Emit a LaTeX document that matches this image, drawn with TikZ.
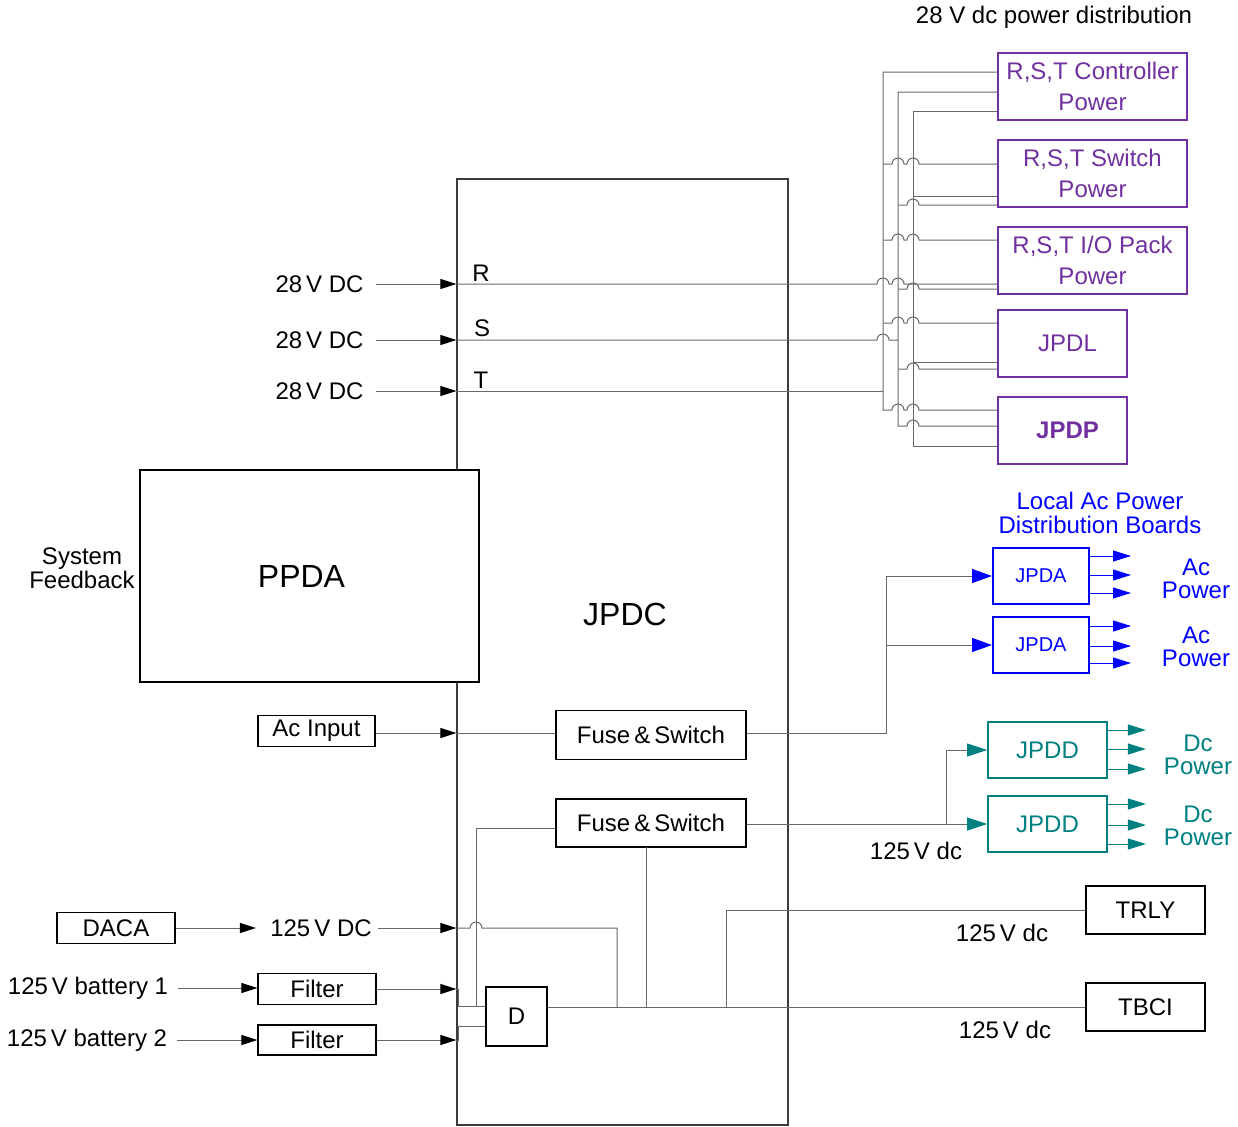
\documentclass[tikz,border=0pt]{standalone}
\usepackage{fontspec}
\setmainfont{Liberation Sans}
\usetikzlibrary{arrows.meta}
\definecolor{wiregray}{RGB}{105,105,105}
\definecolor{framegray}{RGB}{60,60,60}
\definecolor{rstpurple}{RGB}{112,48,160}
\definecolor{dcteal}{RGB}{0,128,128}
\newcommand{\jump}{arc[start angle=180,end angle=0,radius=3pt]}

\begin{document}
\begin{tikzpicture}[x=0.5pt,y=-0.5pt,
  font=\fontsize{12}{11.8}\selectfont,
  txt/.style={inner sep=1pt},
  wire/.style={draw=wiregray,line width=0.5pt},
  feed/.style={wire,-{Triangle[length=8pt,width=5pt,color=black]}},
  frame/.style={draw=framegray,line width=0.6pt,inner sep=0pt},
  blk/.style={draw=black,line width=0.6pt,fill=white,inner sep=0pt},
  pbox/.style={draw=rstpurple,line width=0.6pt,text=rstpurple,align=center,inner sep=0pt,
    minimum height=33.5pt,font=\fontsize{12}{15.5}\selectfont},
  abox/.style={draw=blue,line width=1pt,text=blue,inner sep=0pt,
    minimum width=48pt,minimum height=28pt,font=\fontsize{10}{12}\selectfont},
  dbox/.style={draw=dcteal,line width=0.9pt,text=dcteal,inner sep=0pt,
    minimum width=59.5pt,minimum height=28pt},
  acin/.style={wire,-{Triangle[length=10pt,width=7pt,color=blue]}},
  acout/.style={draw=blue,line width=0.5pt,-{Triangle[length=9pt,width=5.5pt]}},
  dcin/.style={wire,-{Triangle[length=10pt,width=6.5pt,color=dcteal]}},
  dcout/.style={draw=dcteal,line width=0.5pt,-{Triangle[length=9pt,width=5.5pt]}}]
\useasboundingbox (0,0) rectangle (1238,1126);

% JPDC and PPDA
\node[frame,minimum width=165.5pt,minimum height=473pt] (jpdc) at (622.5,652) {};
\node[txt,font=\fontsize{16}{18}\selectfont] (jpdctext) at (625,614) {JPDC};
\node[blk,minimum width=169.5pt,minimum height=106pt,font=\fontsize{16}{18}\selectfont] (ppda) at (309.5,576) {PPDA\hspace*{8pt}};
\node[txt,align=center] (feedback) at (82,568) {System\\Feedback};

% 28 V dc side
\node[txt] (title) at (1054,17) {28 V dc power distribution};
\node[pbox,minimum width=94.5pt] (ctl) at (1092.5,86.5) {R,S,T Controller\\Power};
\node[pbox,minimum width=94.5pt] (sw) at (1092.5,173.5) {R,S,T Switch\\Power};
\node[pbox,minimum width=94.5pt] (io) at (1092.5,260.5) {R,S,T I/O Pack\\Power};
\node[pbox,minimum width=64.5pt] (jpdl) at (1062.5,343.5) {\hspace*{5pt}JPDL};
\node[pbox,minimum width=64.5pt,font=\fontsize{12}{14}\selectfont\bfseries] (jpdp) at (1062.5,430.5) {\hspace*{5pt}JPDP};

\node[txt,anchor=east] (inR) at (366,284) {28\,V DC};
\node[txt,anchor=east] (inS) at (366,340) {28\,V DC};
\node[txt,anchor=east] (inT) at (366,391) {28\,V DC};
\node[txt] (lblR) at (481,273) {R};
\node[txt] (lblS) at (482,328) {S};
\node[txt] (lblT) at (481,380) {T};
\draw[feed] ([xshift=5pt]inR.east) -- (inR.east -| jpdc.west);
\draw[feed] ([xshift=5pt]inS.east) -- (inS.east -| jpdc.west);
\draw[feed] ([xshift=5pt]inT.east) -- (inT.east -| jpdc.west);

\draw[wire] (inR.east -| jpdc.west) -- (877,284) \jump -- (892,284) \jump -- (inR.east -| io.west);
\draw[wire] (inS.east -| jpdc.west) -- (877,340) \jump -- (898,340);
\draw[wire] (inT.east -| jpdc.west) -- (883,391);

% T bus
\draw[wire] (ctl.west |- 0,72) -- (883,72) -- (883,410) -- (892,410) \jump -- (907,410) \jump -- (jpdp.west |- 0,410);
\draw[wire] (883,164) -- (892,164) \jump -- (907,164) \jump -- (sw.west |- 0,164);
\draw[wire] (883,240) -- (892,240) \jump -- (907,240) \jump -- (io.west |- 0,240);
\draw[wire] (883,323) -- (892,323) \jump -- (907,323) \jump -- (jpdl.west |- 0,323);
% S bus
\draw[wire] (ctl.west |- 0,92) -- (898,92) -- (898,426) -- (907,426) \jump -- (jpdp.west |- 0,426);
\draw[wire] (898,205) -- (907,205) \jump -- (sw.west |- 0,205);
\draw[wire] (898,289) -- (907,289) \jump -- (io.west |- 0,289);
\draw[wire] (898,369) -- (907,369) \jump -- (jpdl.west |- 0,369);
% R bus
\draw[wire] (ctl.west |- 0,111) -- (913,111) -- (913,446) -- (jpdp.west |- 0,446);
\draw[wire] (913,196) -- (sw.west |- 0,196);
\draw[wire] (913,362) -- (jpdl.west |- 0,362);

% ac distribution
\node[txt,text=blue,align=center] (localac) at (1100,513) {Local Ac Power\\Distribution Boards};
\node[abox] (jpda1) at (1041,576) {JPDA};
\node[abox] (jpda2) at (1041,645) {JPDA};
\node[txt,text=blue,align=center] (acpow1) at (1196,579) {Ac\\Power};
\node[txt,text=blue,align=center] (acpow2) at (1196,647) {Ac\\Power};
\draw[acout] ([yshift=10pt]jpda1.east) -- ++(20.5pt,0);
\draw[acout] ([yshift=0.5pt]jpda1.east) -- ++(20.5pt,0);
\draw[acout] ([yshift=-8.5pt]jpda1.east) -- ++(20.5pt,0);
\draw[acout] ([yshift=9.5pt]jpda2.east) -- ++(20.5pt,0);
\draw[acout] ([yshift=-0.5pt]jpda2.east) -- ++(20.5pt,0);
\draw[acout] ([yshift=-9pt]jpda2.east) -- ++(20.5pt,0);

\node[blk,minimum width=58.5pt,minimum height=15.5pt] (acinput) at (316.5,731) {Ac Input};
\node[blk,minimum width=95pt,minimum height=24.5pt] (fs1) at (651,735) {Fuse\,\&\,Switch};
\draw[feed] (acinput.east |- 0,733) -- (jpdc.west |- 0,733);
\draw[wire] (jpdc.west |- 0,733) -- (fs1.west |- 0,733);
\coordinate (acbus) at (886,0);
\draw[acin] (fs1.east |- 0,733) -| (acbus |- jpda1.west) -- (jpda1.west);
\draw[acin] (acbus |- jpda2.west) -- (jpda2.west);

% dc distribution
\node[dbox] (jpdd1) at (1047.5,750) {JPDD};
\node[dbox] (jpdd2) at (1047.5,824) {JPDD};
\node[txt,text=dcteal,align=center] (dcpow1) at (1198,755) {Dc\\Power};
\node[txt,text=dcteal,align=center] (dcpow2) at (1198,826) {Dc\\Power};
\draw[dcout] ([yshift=10pt]jpdd1.east) -- ++(19pt,0);
\draw[dcout] ([yshift=0.5pt]jpdd1.east) -- ++(19pt,0);
\draw[dcout] ([yshift=-9.5pt]jpdd1.east) -- ++(19pt,0);
\draw[dcout] ([yshift=10pt]jpdd2.east) -- ++(19pt,0);
\draw[dcout] ([yshift=-0.5pt]jpdd2.east) -- ++(19pt,0);
\draw[dcout] ([yshift=-10pt]jpdd2.east) -- ++(19pt,0);

\node[blk,minimum width=95pt,minimum height=24pt] (fs2) at (651,823) {Fuse\,\&\,Switch};
\node[txt] (dcv2) at (916,851) {125\,V dc};
\coordinate (dcbus) at (946,0);
\draw[dcin] (fs2.east |- jpdd2.west) -- (jpdd2.west);
\draw[dcin] (dcbus |- jpdd2.west) |- (jpdd1.west);

% 125 V dc inputs
\node[blk,minimum width=59pt,minimum height=15.5pt] (daca) at (116,928) {DACA};
\node[txt] (dcv) at (321,928) {125\,V DC};
\node[txt] (bat1) at (88,988) {125\,V battery 1};
\node[txt] (bat2) at (87,1040) {125\,V battery 2};
\node[blk,minimum width=59pt,minimum height=15.5pt] (f1) at (317,989) {Filter};
\node[blk,minimum width=59pt,minimum height=15pt] (f2) at (317,1040) {Filter};
\node[blk,minimum width=30.5pt,minimum height=29.5pt] (d) at (516.5,1016.5) {D};
\draw[feed] (daca.east) -- ([xshift=-6pt]dcv.west);
\draw[feed] ([xshift=2pt]dcv.east) -- (dcv.east -| jpdc.west);
\draw[feed] ([xshift=4pt]bat1.east) -- (bat1.east -| f1.west);
\draw[feed] ([xshift=4pt]bat2.east) -- (bat2.east -| f2.west);
\draw[feed] (f1.east) -- (f1.east -| jpdc.west);
\draw[feed] (f2.east) -- (f2.east -| jpdc.west);
\draw[wire] (f1.east -| jpdc.west) -- ++(1pt,0) |- ([yshift=5pt]d.west);
\draw[wire] (f2.east -| jpdc.west) -- ++(1pt,0) |- ([yshift=-5pt]d.west);
\coordinate (djoin) at (476,1007);
\draw[wire] (fs2.west |- 0,828) -| (djoin);
\draw[wire] (dcv.east -| jpdc.west) -- (470,928) \jump -- (617,928) -- (617,1007);

% 125 V dc outputs
\node[blk,minimum width=59.5pt,minimum height=24pt] (trly) at (1145.5,910) {TRLY};
\node[blk,minimum width=59.5pt,minimum height=24pt] (tbci) at (1145.5,1007) {TBCI};
\node[txt] (dcv3) at (1002,933) {125\,V dc};
\node[txt] (dcv4) at (1005,1030) {125\,V dc};
\draw[wire] (tbci.west -| d.east) -- (tbci.west);
\draw[wire] (646,847) -- (646,1007);
\draw[wire] (726,1007) |- (trly.west);
\end{tikzpicture}
\end{document}
